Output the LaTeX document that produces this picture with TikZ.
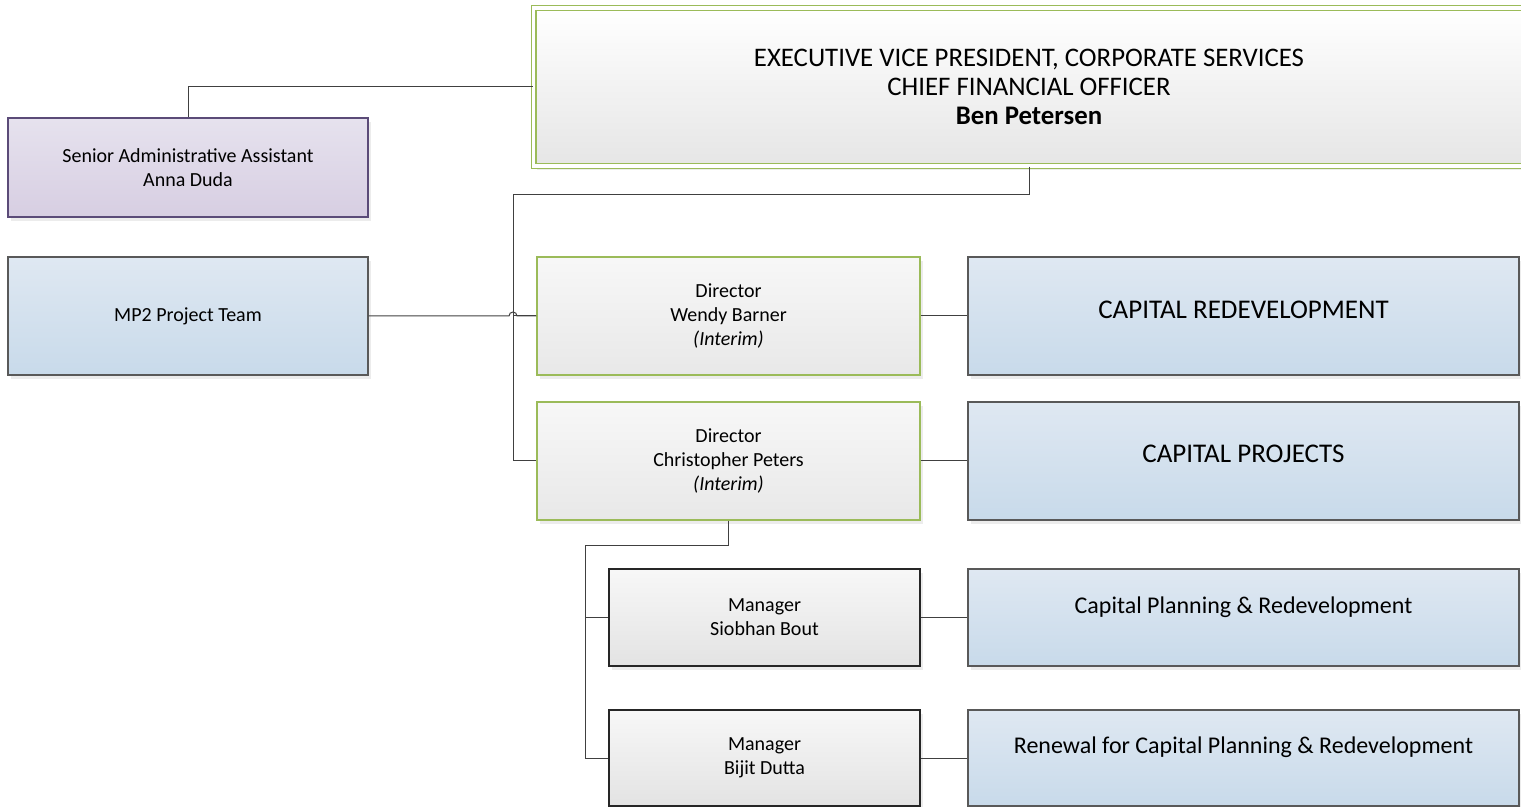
\documentclass[tikz,border=0pt]{standalone}
\usepackage{fontspec}
\setmainfont{Carlito}
\usetikzlibrary{shadows}

\definecolor{leaf}{HTML}{9BBB59}
\definecolor{wirecol}{HTML}{404040}
\definecolor{bluetop}{HTML}{DFE8F2}
\definecolor{bluebot}{HTML}{C8DAEA}
\definecolor{plumtop}{HTML}{E6E2EE}
\definecolor{plumbot}{HTML}{D7CEE2}
\definecolor{plumedge}{HTML}{5B4B78}

\begin{document}
\begin{tikzpicture}[x=0.5pt,y=-0.5pt,
    box/.style={draw,line width=0.55pt,align=center,inner sep=0pt,
        font=\fontsize{10}{12}\selectfont,
        drop shadow={shadow xshift=1.5pt,shadow yshift=-2pt,opacity=0.15}},
    greybox/.style={box,draw=leaf,top color=white!97!black,bottom color=white!91!black},
    mgrbox/.style={box,draw=black!85,top color=white!97!black,bottom color=white!89!black},
    unitbox/.style={box,draw=black!65,top color=bluetop,bottom color=bluebot},
    plumbox/.style={box,draw=plumedge,top color=plumtop,bottom color=plumbot},
    wire/.style={draw=wirecol,line width=0.5pt}]
    \useasboundingbox (0,0) rectangle (1521,807);

    % executive
    \node[box,draw=leaf,line width=0.6pt,double=white,double distance=1.8pt,
        top color=white,bottom color=white!90!black,
        font=\fontsize{13.4}{14.5}\selectfont,
        minimum width=495.5pt,minimum height=79pt] (evp) at (1029,87)
        {EXECUTIVE VICE PRESIDENT, CORPORATE SERVICES\\CHIEF FINANCIAL OFFICER\\\textbf{Ben Petersen}};

    % left column
    \node[plumbox,minimum width=180pt,minimum height=49.5pt] (admin) at (188,167.5)
        {Senior Administrative Assistant\\Anna Duda};
    \node[unitbox,minimum width=180pt,minimum height=59pt] (mp2) at (188,316) {MP2 Project Team};

    % directors
    \node[greybox,minimum width=191.5pt,minimum height=59pt] (wendy) at (728.5,316)
        {Director\\Wendy Barner\\\textit{(Interim)}};
    \node[greybox,minimum width=191.5pt,minimum height=59pt] (chris) at (728.5,461)
        {Director\\Christopher Peters\\\textit{(Interim)}};
    \node[unitbox,font=\fontsize{13.5}{16}\selectfont,text height=10pt,text depth=7.5pt,
        minimum width=275.5pt,minimum height=59pt] (capred) at (1243.5,316) {CAPITAL REDEVELOPMENT};
    \node[unitbox,font=\fontsize{13.5}{16}\selectfont,text height=10pt,text depth=8.5pt,
        minimum width=275.5pt,minimum height=59pt] (cappro) at (1243.5,461) {CAPITAL PROJECTS};

    % managers
    \node[mgrbox,minimum width=155.5pt,minimum height=48.5pt] (siobhan) at (764.5,617.5)
        {Manager\\Siobhan Bout};
    \node[mgrbox,minimum width=155.5pt,minimum height=48pt] (bijit) at (764.5,758)
        {Manager\\Bijit Dutta};
    \node[unitbox,font=\fontsize{12}{14}\selectfont,text height=8pt,text depth=12.5pt,
        minimum width=275.5pt,minimum height=48.5pt] (capplan) at (1243.5,617.5)
        {Capital Planning \& Redevelopment};
    \node[unitbox,font=\fontsize{12}{14}\selectfont,text height=8pt,text depth=12.5pt,
        minimum width=275.5pt,minimum height=48pt] (renewal) at (1243.5,758)
        {Renewal for Capital Planning \& Redevelopment};

    % connectors
    \coordinate (dtrunk) at (513,195);
    \coordinate (mtrunk) at (585,545);
    \draw[wire] (evp.west) -| (admin.north);
    \draw[wire] (evp.south) |- (dtrunk) |- (chris.west);
    \draw[wire] (dtrunk |- wendy.west) -- (wendy.west);
    \draw[wire] (mp2.east) -- ([xshift=-2pt]dtrunk |- mp2.east)
        arc[start angle=180,end angle=0,radius=2pt] -- (wendy.west);
    \draw[wire] (wendy.east) -- (capred.west);
    \draw[wire] (chris.east) -- (cappro.west);
    \draw[wire] (chris.south) |- (mtrunk) |- (bijit.west);
    \draw[wire] (mtrunk |- siobhan.west) -- (siobhan.west);
    \draw[wire] (siobhan.east) -- (capplan.west);
    \draw[wire] (bijit.east) -- (renewal.west);
\end{tikzpicture}
\end{document}
